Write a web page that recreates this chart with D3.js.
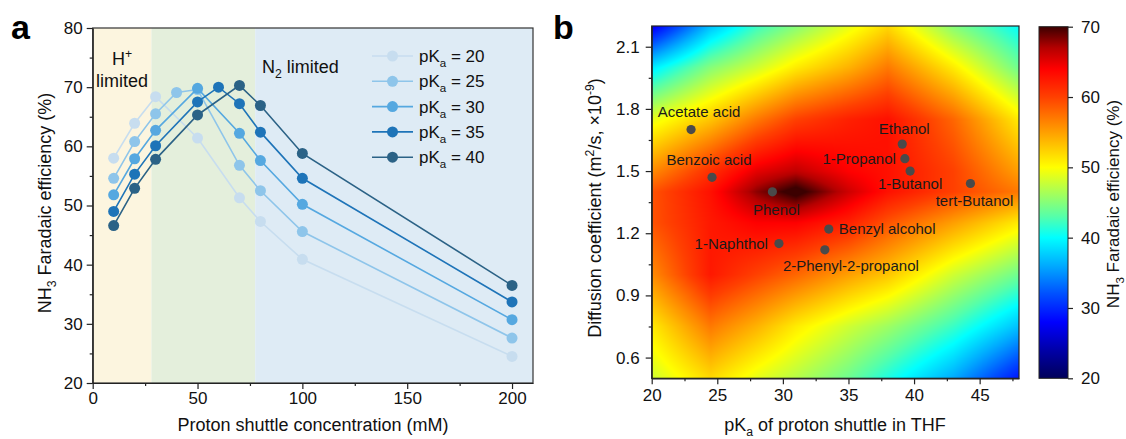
<!DOCTYPE html>
<html>
<head>
<meta charset="utf-8">
<script src="https://cdn.jsdelivr.net/npm/d3@7"></script>
<style>
  body { margin: 0; background: #fff; }
  svg { display: block; font-family: "Liberation Sans", Arial, sans-serif; }
</style>
</head>
<body>
<svg id="fig" width="1126" height="439"></svg>
<script>
// ---------- panel a data ----------
const concentrations = [10, 20, 30, 40, 50, 60, 70, 80, 100, 200];
const pkaLevels = [20, 25, 30, 35, 40];
const fePka20 = [58.0, 63.9, 68.4, null, 61.4, null, 51.3, 47.3, 40.9, 24.5];
const fePka25 = [54.6, 60.8, 65.5, 69.1, 69.6, null, 56.8, 52.5, 45.6, 27.6];
const fePka30 = [51.8, 57.9, 62.7, null, 69.8, null, 62.2, 57.6, 50.2, 30.7];
const fePka35 = [49.0, 55.3, 60.1, null, 67.5, 70.0, 67.2, 62.4, 54.6, 33.7];
const fePka40 = [46.6, 52.9, 57.8, null, 65.3, null, 70.3, 66.9, 58.8, 36.5];
const seriesColors = ["#c7ddef", "#8ec5ea", "#55a8e0", "#1e74b8", "#2b6286"];

const regionStart = [0, 28, 77.5];
const regionEnd = [28, 77.5, 210];
const regionColors = ["#fcf5df", "#e4efdc", "#deebf5"];

// ---------- panel b data ----------
const shuttleNames = ["Acetate acid", "Benzoic acid", "Phenol", "Ethanol", "1-Propanol",
  "1-Butanol", "tert-Butanol", "Benzyl alcohol", "1-Naphthol", "2-Phenyl-2-propanol"];
const shuttlePka = [23.0, 24.6, 29.2, 39.1, 39.3, 39.7, 44.3, 33.5, 29.7, 33.2];
const shuttleDiff = [1.70, 1.47, 1.40, 1.63, 1.56, 1.50, 1.44, 1.22, 1.15, 1.12];

// faradaic efficiency map (rows: diffusion coeff, cols: pKa)
const mapPka = [20, 24.5, 28, 31, 35, 38, 43, 48];
const mapDiff = [2.2, 2.0, 1.75, 1.5, 1.4, 1.25, 1.0, 0.75, 0.5];
const mapFE = [
  [27, 37, 42, 45, 49, 52, 45, 40],
  [39, 45, 48, 51, 54, 57, 51, 44],
  [49, 53, 57, 60, 62, 63, 58, 51],
  [56, 61, 65, 66.5, 64, 63, 60, 55],
  [59, 63, 68, 71, 66, 63, 60, 57],
  [59, 62.5, 64, 64, 62, 59, 55, 51],
  [56, 62.5, 60, 58, 55, 53, 48, 44],
  [51, 57, 54, 51, 48, 46, 42, 37],
  [48, 52, 49, 47, 44, 41, 36, 29]
];

const cbValues = [20, 24, 28, 32, 36, 40, 43, 46.5, 50, 55, 60, 64, 67, 70];
const cbColors = ["#00005a", "#0000a8", "#0000ff", "#0050ff", "#00aaff", "#00ffff", "#55ffaa",
  "#aaff55", "#ffff00", "#ff9f00", "#ff4000", "#ff0000", "#b40000", "#3c0000"];

const svg = d3.select("#fig");
const FONT = '"Liberation Sans", Arial, sans-serif';

function styleAxis(g) {
  g.selectAll("path, line").attr("stroke", "#222").attr("stroke-width", 1.2);
  g.selectAll("text").attr("font-size", 17).attr("fill", "#111").attr("font-family", FONT);
}

// text with sub/superscripts: parts = [[text, "n"|"sub"|"sup"], ...]
function richText(t, parts, size) {
  let shift = 0;
  parts.forEach(([s, mode]) => {
    let target = mode == "sub" ? size * 0.3 : mode == "sup" ? -size * 0.38 : 0;
    t.append("tspan")
      .attr("dy", target - shift)
      .attr("font-size", mode == "n" ? size : size * 0.68)
      .text(s);
    shift = target;
  });
}

// ================= panel a =================
const xA = d3.scaleLinear().domain([0, 210]).range([92.7, 533]);
const yA = d3.scaleLinear().domain([20, 80]).range([383, 28]);
const gA = svg.append("g");

gA.selectAll("rect.region").data(regionStart).enter().append("rect")
  .attr("x", (d) => xA(d))
  .attr("width", (d, i) => xA(regionEnd[i]) - xA(d))
  .attr("y", yA(80)).attr("height", yA(20) - yA(80))
  .attr("fill", (d, i) => regionColors[i]);

// region labels
let h = gA.append("text").attr("x", 122).attr("y", 65).attr("text-anchor", "middle").attr("fill", "#111");
richText(h, [["H", "n"], ["+", "sup"]], 18);
gA.append("text").attr("x", 122).attr("y", 87).attr("text-anchor", "middle")
  .attr("font-size", 18).attr("fill", "#111").text("limited");
let n2 = gA.append("text").attr("x", 262).attr("y", 73).attr("fill", "#111");
richText(n2, [["N", "n"], ["2", "sub"], [" limited", "n"]], 18);

const lineA = d3.line().x((d) => xA(d[0])).y((d) => yA(d[1]));
const feSeries = [fePka20, fePka25, fePka30, fePka35, fePka40];

feSeries.forEach((vals, k) => {
  let pts = concentrations.map((c, i) => [c, vals[i]]).filter((p) => p[1] != null);
  gA.append("path").datum(pts).attr("d", lineA)
    .attr("fill", "none").attr("stroke", seriesColors[k]).attr("stroke-width", 1.6);
  gA.selectAll(null).data(pts).enter().append("circle")
    .attr("cx", (d) => xA(d[0])).attr("cy", (d) => yA(d[1])).attr("r", 5.5)
    .attr("fill", seriesColors[k]);
});

// legend
pkaLevels.forEach((p, k) => {
  let cy = 56 + k * 25.3;
  gA.append("line").attr("x1", 372).attr("x2", 413).attr("y1", cy).attr("y2", cy)
    .attr("stroke", seriesColors[k]).attr("stroke-width", 1.6);
  gA.append("circle").attr("cx", 392.5).attr("cy", cy).attr("r", 5.5).attr("fill", seriesColors[k]);
  let t = gA.append("text").attr("x", 419).attr("y", cy + 6).attr("fill", "#111");
  richText(t, [["pK", "n"], ["a", "sub"], [" = " + p, "n"]], 17);
});

gA.append("rect").attr("x", xA(0)).attr("y", yA(80))
  .attr("width", xA(210) - xA(0)).attr("height", yA(20) - yA(80))
  .attr("fill", "none").attr("stroke", "#333").attr("stroke-width", 1.2);

gA.append("g").attr("transform", "translate(0,383)")
  .call(d3.axisBottom(xA).tickValues([0, 50, 100, 150, 200]).tickSize(6).tickSizeOuter(0).tickPadding(3))
  .call(styleAxis);
gA.append("g").attr("transform", "translate(0,383)")
  .call(d3.axisBottom(xA).tickValues([25, 75, 125, 175]).tickSize(3).tickFormat(""))
  .call(styleAxis).select(".domain").remove();
gA.append("g").attr("transform", "translate(92.7,0)")
  .call(d3.axisLeft(yA).tickValues(d3.range(20, 81, 10)).tickSize(6).tickSizeOuter(0).tickPadding(4))
  .call(styleAxis);
gA.append("g").attr("transform", "translate(92.7,0)")
  .call(d3.axisLeft(yA).tickValues(d3.range(25, 80, 10)).tickSize(3).tickFormat(""))
  .call(styleAxis).select(".domain").remove();

gA.append("text").attr("x", 313).attr("y", 431).attr("text-anchor", "middle")
  .attr("font-size", 18).attr("fill", "#111").text("Proton shuttle concentration (mM)");
let ta = gA.append("text").attr("transform", "translate(51,203) rotate(-90)")
  .attr("text-anchor", "middle").attr("fill", "#111");
richText(ta, [["NH", "n"], ["3", "sub"], [" Faradaic efficiency (%)", "n"]], 18);

svg.append("text").attr("x", 11).attr("y", 39).attr("font-size", 34).attr("font-weight", "bold")
  .attr("fill", "#000").text("a");

// ================= panel b =================
const xB = d3.scaleLinear().domain([20, 48]).range([651.7, 1019]);
const yB = d3.scaleLinear().domain([0.5, 2.2]).range([378.3, 26]);
const color = d3.scaleLinear().domain(cbValues).range(cbColors)
  .interpolate(d3.interpolateRgb).clamp(true);

function feAt(p, d) {
  let i = 0;
  while (i < mapPka.length - 2 && p > mapPka[i + 1]) i++;
  let j = 0;
  while (j < mapDiff.length - 2 && d < mapDiff[j + 1]) j++;
  let tx = Math.max(0, Math.min(1, (p - mapPka[i]) / (mapPka[i + 1] - mapPka[i])));
  let ty = Math.max(0, Math.min(1, (d - mapDiff[j]) / (mapDiff[j + 1] - mapDiff[j])));
  let top = (1 - tx) * mapFE[j][i] + tx * mapFE[j][i + 1];
  let bot = (1 - tx) * mapFE[j + 1][i] + tx * mapFE[j + 1][i + 1];
  return (1 - ty) * top + ty * bot;
}

const px0 = Math.round(xB(20)), px1 = Math.round(xB(48));
const py0 = Math.round(yB(2.2)), py1 = Math.round(yB(0.5));
const cw = px1 - px0, ch = py1 - py0;
const canvas = document.createElement("canvas");
canvas.width = cw; canvas.height = ch;
const ctx = canvas.getContext("2d");
const img = ctx.createImageData(cw, ch);
for (let r = 0; r < ch; r++) {
  for (let c = 0; c < cw; c++) {
    let v = feAt(xB.invert(px0 + c + 0.5), yB.invert(py0 + r + 0.5));
    let col = d3.rgb(color(v));
    let o = (r * cw + c) * 4;
    img.data[o] = col.r; img.data[o + 1] = col.g; img.data[o + 2] = col.b; img.data[o + 3] = 255;
  }
}
ctx.putImageData(img, 0, 0);

const gB = svg.append("g");
gB.append("image").attr("x", px0).attr("y", py0).attr("width", cw).attr("height", ch)
  .attr("preserveAspectRatio", "none").attr("href", canvas.toDataURL());

gB.selectAll("circle.pt").data(shuttleNames).enter().append("circle")
  .attr("cx", (d, i) => xB(shuttlePka[i])).attr("cy", (d, i) => yB(shuttleDiff[i]))
  .attr("r", 4.6).attr("fill", "#4a4a4a");

// label placement (dx, dy, anchor) per shuttle
const labelDx = [8, -3, 4, 2, -9, 0, 4, 10, -11, 26];
const labelDy = [-13, -12, 23, -10, 5, 18, 23, 5, 5, 21];
const labelAnchor = ["middle", "middle", "middle", "middle", "end", "middle", "middle", "start", "end", "middle"];
gB.selectAll("text.lbl").data(shuttleNames).enter().append("text")
  .attr("x", (d, i) => xB(shuttlePka[i]) + labelDx[i])
  .attr("y", (d, i) => yB(shuttleDiff[i]) + labelDy[i])
  .attr("text-anchor", (d, i) => labelAnchor[i])
  .attr("font-size", 15).attr("fill", "#1a1a1a").text((d) => d);

gB.append("rect").attr("x", xB(20)).attr("y", yB(2.2))
  .attr("width", xB(48) - xB(20)).attr("height", yB(0.5) - yB(2.2))
  .attr("fill", "none").attr("stroke", "#222").attr("stroke-width", 1.2);

gB.append("g").attr("transform", `translate(0,${yB(0.5)})`)
  .call(d3.axisBottom(xB).tickValues([20, 25, 30, 35, 40, 45]).tickSize(6).tickSizeOuter(0).tickPadding(5))
  .call(styleAxis);
gB.append("g").attr("transform", `translate(0,${yB(0.5)})`)
  .call(d3.axisBottom(xB).tickValues([22.5, 27.5, 32.5, 37.5, 42.5, 47.5]).tickSize(3).tickFormat(""))
  .call(styleAxis).select(".domain").remove();
gB.append("g").attr("transform", `translate(${xB(20)},0)`)
  .call(d3.axisLeft(yB).tickValues([0.6, 0.9, 1.2, 1.5, 1.8, 2.1]).tickSize(6).tickSizeOuter(0)
    .tickPadding(6).tickFormat(d3.format(".1f")))
  .call(styleAxis);
gB.append("g").attr("transform", `translate(${xB(20)},0)`)
  .call(d3.axisLeft(yB).tickValues([0.75, 1.05, 1.35, 1.65, 1.95]).tickSize(3).tickFormat(""))
  .call(styleAxis).select(".domain").remove();

let tbx = gB.append("text").attr("x", 835).attr("y", 431).attr("text-anchor", "middle").attr("fill", "#111");
richText(tbx, [["pK", "n"], ["a", "sub"], [" of proton shuttle in THF", "n"]], 18);
let tby = gB.append("text").attr("transform", "translate(601,208) rotate(-90)")
  .attr("text-anchor", "middle").attr("fill", "#111");
richText(tby, [["Diffusion coefficient (m", "n"], ["2", "sup"], ["/s, \u00d710", "n"], ["-9", "sup"], [")", "n"]], 18);

svg.append("text").attr("x", 553).attr("y", 39).attr("font-size", 34).attr("font-weight", "bold")
  .attr("fill", "#000").text("b");

// ---------- colour bar ----------
const yCb = d3.scaleLinear().domain([20, 70]).range([378.3, 26.7]);
const grad = svg.append("defs").append("linearGradient").attr("id", "cbgrad")
  .attr("x1", 0).attr("y1", 1).attr("x2", 0).attr("y2", 0);
grad.selectAll("stop").data(cbValues).enter().append("stop")
  .attr("offset", (d) => (d - 20) / 50).attr("stop-color", (d, i) => cbColors[i]);
svg.append("rect").attr("x", 1039).attr("y", yCb(70)).attr("width", 29)
  .attr("height", yCb(20) - yCb(70)).attr("fill", "url(#cbgrad)")
  .attr("stroke", "#222").attr("stroke-width", 1);
svg.append("g").attr("transform", "translate(1068,0)")
  .call(d3.axisRight(yCb).tickValues(d3.range(20, 71, 10)).tickSize(5).tickSizeOuter(0).tickPadding(8))
  .call(styleAxis).select(".domain").remove();
let tcb = svg.append("text").attr("transform", "translate(1119,204) rotate(-90)")
  .attr("text-anchor", "middle").attr("fill", "#111");
richText(tcb, [["NH", "n"], ["3", "sub"], [" Faradaic efficiency (%)", "n"]], 17);
</script>
</body>
</html>
